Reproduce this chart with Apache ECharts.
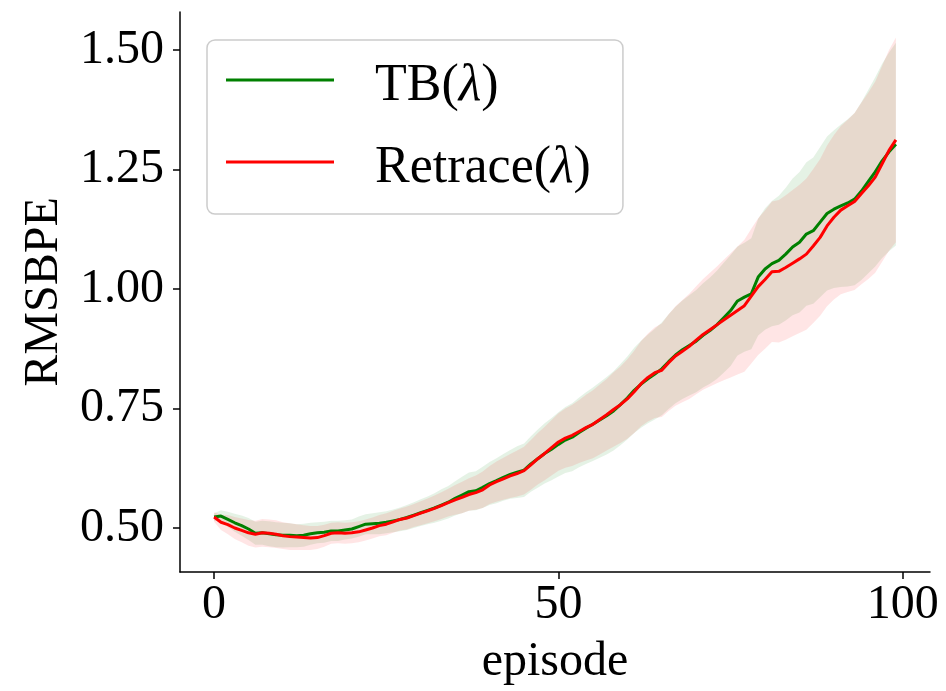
<!DOCTYPE html>
<html>
<head>
<meta charset="utf-8">
<script src="https://cdn.jsdelivr.net/npm/echarts@6/dist/echarts.min.js"></script>
<style>
  html, body { margin: 0; padding: 0; background: #fff; }
  #chart { width: 946px; height: 691px; }
</style>
</head>
<body>
<div id="chart"></div>
<script>
// episodes 0..99
const episodes = Array.from({ length: 100 }, (_, i) => i);

// TB(lambda) mean RMSBPE
const tbMean = [
  0.523, 0.525, 0.518, 0.511, 0.505, 0.498, 0.489, 0.490, 0.488, 0.486,
  0.485, 0.485, 0.484, 0.485, 0.488, 0.490, 0.491, 0.494, 0.494, 0.496,
  0.498, 0.503, 0.508, 0.509, 0.510, 0.512, 0.515, 0.518, 0.522, 0.527,
  0.532, 0.537, 0.542, 0.548, 0.554, 0.562, 0.569, 0.576, 0.578, 0.585,
  0.593, 0.599, 0.606, 0.612, 0.617, 0.621, 0.634, 0.645, 0.656, 0.665,
  0.675, 0.684, 0.690, 0.700, 0.709, 0.717, 0.726, 0.735, 0.745, 0.758,
  0.772, 0.788, 0.801, 0.812, 0.822, 0.833, 0.848, 0.862, 0.873, 0.882,
  0.891, 0.903, 0.913, 0.925, 0.940, 0.955, 0.975, 0.983, 0.990, 1.025,
  1.042, 1.053, 1.060, 1.073, 1.088, 1.098, 1.115, 1.122, 1.140, 1.158,
  1.167, 1.174, 1.180, 1.188, 1.205, 1.225, 1.245, 1.268, 1.287, 1.303
];
// TB(lambda) band half-width
const tbSpread = [
  0.008, 0.012, 0.016, 0.019, 0.021, 0.023, 0.024, 0.025, 0.026, 0.026,
  0.026, 0.025, 0.024, 0.024, 0.023, 0.022, 0.022, 0.021, 0.021, 0.020,
  0.020, 0.021, 0.021, 0.022, 0.023, 0.023, 0.024, 0.025, 0.026, 0.027,
  0.028, 0.029, 0.031, 0.033, 0.034, 0.036, 0.038, 0.040, 0.041, 0.043,
  0.045, 0.047, 0.049, 0.051, 0.054, 0.056, 0.058, 0.061, 0.063, 0.065,
  0.067, 0.069, 0.071, 0.073, 0.075, 0.077, 0.079, 0.081, 0.083, 0.085,
  0.087, 0.089, 0.091, 0.093, 0.095, 0.097, 0.099, 0.101, 0.103, 0.105,
  0.107, 0.109, 0.111, 0.113, 0.115, 0.116, 0.114, 0.114, 0.116, 0.122,
  0.127, 0.131, 0.135, 0.139, 0.143, 0.147, 0.150, 0.153, 0.157, 0.161,
  0.165, 0.170, 0.175, 0.180, 0.186, 0.192, 0.198, 0.203, 0.208, 0.212
];

// Retrace(lambda) mean RMSBPE
const retraceMean = [
  0.523, 0.512, 0.507, 0.500, 0.495, 0.490, 0.487, 0.490, 0.489, 0.487,
  0.484, 0.482, 0.481, 0.480, 0.479, 0.480, 0.484, 0.489, 0.490, 0.489,
  0.490, 0.492, 0.496, 0.500, 0.505, 0.508, 0.513, 0.518, 0.521, 0.526,
  0.531, 0.536, 0.541, 0.547, 0.553, 0.559, 0.564, 0.570, 0.574, 0.580,
  0.590, 0.597, 0.603, 0.609, 0.614, 0.620, 0.632, 0.645, 0.656, 0.668,
  0.680, 0.688, 0.694, 0.702, 0.710, 0.717, 0.727, 0.737, 0.748, 0.758,
  0.770, 0.785, 0.802, 0.815, 0.825, 0.830, 0.846, 0.860, 0.870, 0.880,
  0.893, 0.905, 0.915, 0.925, 0.935, 0.945, 0.955, 0.965, 0.985, 1.005,
  1.020, 1.036, 1.037, 1.045, 1.054, 1.063, 1.073, 1.090, 1.108, 1.132,
  1.150, 1.165, 1.174, 1.183, 1.200, 1.216, 1.234, 1.262, 1.290, 1.312
];
// Retrace(lambda) band half-width
const retraceSpread = [
  0.010, 0.016, 0.020, 0.023, 0.025, 0.027, 0.028, 0.029, 0.029, 0.029,
  0.028, 0.028, 0.027, 0.026, 0.025, 0.024, 0.023, 0.022, 0.022, 0.022,
  0.022, 0.022, 0.022, 0.022, 0.022, 0.023, 0.023, 0.023, 0.024, 0.024,
  0.025, 0.026, 0.027, 0.028, 0.029, 0.031, 0.033, 0.034, 0.036, 0.038,
  0.040, 0.042, 0.044, 0.046, 0.048, 0.050, 0.052, 0.054, 0.056, 0.058,
  0.060, 0.062, 0.064, 0.066, 0.069, 0.071, 0.073, 0.075, 0.078, 0.080,
  0.083, 0.086, 0.089, 0.092, 0.095, 0.098, 0.101, 0.104, 0.107, 0.110,
  0.113, 0.116, 0.119, 0.122, 0.126, 0.130, 0.134, 0.138, 0.141, 0.143,
  0.145, 0.147, 0.149, 0.151, 0.153, 0.155, 0.158, 0.161, 0.164, 0.168,
  0.172, 0.176, 0.180, 0.185, 0.190, 0.195, 0.200, 0.205, 0.210, 0.214
];

const xTicks = [0, 50, 100];
const yTicks = [0.5, 0.75, 1.0, 1.25, 1.5];

const FONT = '"Liberation Serif", "DejaVu Serif", serif';

// shaded band drawn as one polygon through the axis scales
function bandSeries(name, mean, spread, fill) {
  const data = episodes.map((x, i) => [x, mean[i] - spread[i], mean[i] + spread[i]]);
  return {
    name: name,
    type: "custom",
    silent: true,
    z: 1,
    encode: { x: 0, y: [1, 2] },
    data: data,
    renderItem: function (params, api) {
      if (params.dataIndex !== 0) return;
      const upper = data.map((d) => api.coord([d[0], d[2]]));
      const lower = data.map((d) => api.coord([d[0], d[1]])).reverse();
      return {
        type: "polygon",
        shape: { points: upper.concat(lower) },
        style: { fill: fill }
      };
    }
  };
}

function lineSeries(name, mean, color, z) {
  return {
    name: name,
    type: "line",
    z: z,
    showSymbol: false,
    symbol: "none",
    lineStyle: { color: color, width: 3 },
    itemStyle: { color: color },
    data: episodes.map((x, i) => [x, mean[i]])
  };
}

const chart = echarts.init(document.getElementById("chart"));
chart.setOption({
  animation: false,
  backgroundColor: "#fff",
  grid: { left: 180, right: 16, top: 12, bottom: 119 },
  legend: {
    orient: "vertical",
    left: 207,
    top: 40,
    padding: [12, 32, 20, 19],
    backgroundColor: "#fff",
    borderColor: "#cccccc",
    borderWidth: 1.5,
    borderRadius: 8,
    itemWidth: 108,
    itemHeight: 3,
    itemGap: 22,
    data: [
      { name: "TB", icon: "rect" },
      { name: "Retrace", icon: "rect" }
    ],
    formatter: function (name) {
      return "{n|" + name + "(}{l|λ}{n|)}";
    },
    textStyle: {
      color: "#000",
      fontFamily: FONT,
      fontSize: 52,
      lineHeight: 44,
      padding: [12, 0, 0, 36],
      rich: {
        n: { fontFamily: FONT, fontSize: 52, color: "#000" },
        l: { fontFamily: FONT, fontSize: 52, fontStyle: "italic", color: "#000" }
      }
    }
  },
  xAxis: {
    type: "value",
    min: -4.95,
    max: 103.95,
    name: "episode",
    nameLocation: "middle",
    nameGap: 66,
    nameTextStyle: { fontFamily: FONT, fontSize: 48, color: "#000" },
    axisLine: { show: true, onZero: false, lineStyle: { color: "#000", width: 1.5 } },
    axisTick: { show: true, customValues: xTicks, length: 7, lineStyle: { color: "#000", width: 1.5 } },
    axisLabel: {
      customValues: xTicks,
      margin: 9,
      fontFamily: FONT,
      fontSize: 48,
      color: "#000"
    },
    splitLine: { show: false }
  },
  yAxis: {
    type: "value",
    min: 0.408,
    max: 1.5795,
    name: "RMSBPE",
    nameLocation: "middle",
    nameRotate: 90,
    nameGap: 112,
    nameTextStyle: { fontFamily: FONT, fontSize: 48, color: "#000" },
    axisLine: { show: true, onZero: false, lineStyle: { color: "#000", width: 1.5 } },
    axisTick: { show: true, customValues: yTicks, length: 7, lineStyle: { color: "#000", width: 1.5 } },
    axisLabel: {
      customValues: yTicks,
      margin: 16,
      fontFamily: FONT,
      fontSize: 48,
      color: "#000",
      formatter: (v) => v.toFixed(2)
    },
    splitLine: { show: false }
  },
  series: [
    bandSeries("TB band", tbMean, tbSpread, "rgba(0,128,0,0.1)"),
    bandSeries("Retrace band", retraceMean, retraceSpread, "rgba(255,0,0,0.1)"),
    lineSeries("TB", tbMean, "#008000", 3),
    lineSeries("Retrace", retraceMean, "#ff0000", 4)
  ]
});
</script>
</body>
</html>
